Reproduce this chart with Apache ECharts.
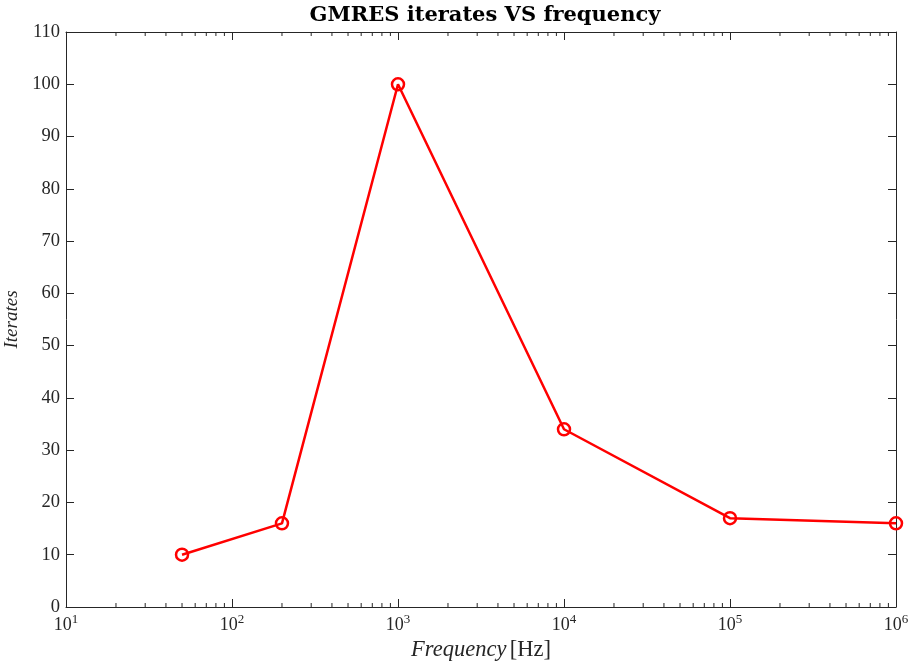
<!DOCTYPE html>
<html>
<head>
<meta charset="utf-8">
<script src="https://cdn.jsdelivr.net/npm/echarts@6/dist/echarts.min.js"></script>
<style>html,body{margin:0;padding:0;background:#fff}#c{width:910px;height:665px}</style>
</head>
<body>
<div id="c"></div>
<script>
var frequencies = [50, 200, 1000, 10000, 100000, 1000000];
var iterates = [10, 16, 100, 34, 17, 16];
var yTicks = [0, 10, 20, 30, 40, 50, 60, 70, 80, 90, 100, 110];
var xDecades = [10, 100, 1000, 10000, 100000, 1000000];
var minorMultipliers = [2, 3, 4, 5, 6, 7, 8, 9];

var minorTicks = [];
for (var d = 0; d < xDecades.length - 1; d++) {
  for (var m = 0; m < minorMultipliers.length; m++) {
    minorTicks.push([xDecades[d] * minorMultipliers[m]]);
  }
}

var FONT = '"Liberation Serif", "DejaVu Serif", serif';
var AX = '#262626';

var chart = echarts.init(document.getElementById('c'), null, {renderer: 'canvas'});

function xLabel(v) {
  var e = Math.round(Math.log10(v));
  return '{b|10}{s|' + e + '}';
}
var xRich = {
  b: {fontSize: 18, fontFamily: FONT, color: AX, verticalAlign: 'bottom'},
  s: {fontSize: 13, fontFamily: FONT, color: AX, verticalAlign: 'bottom', padding: [0, 0, 8, 0]}
};

var option = {
  animation: false,
  backgroundColor: '#ffffff',
  title: {
    text: 'GMRES iterates VS frequency',
    left: 480, top: 0, textAlign: 'center',
    textStyle: {fontFamily: '"DejaVu Serif", serif', fontWeight: 'bold', fontSize: 21, color: '#000'}
  },
  grid: {left: 66, right: 14, top: 32, bottom: 58, containLabel: false, outerBoundsMode: 'none'},
  xAxis: [{
    type: 'log', logBase: 10, min: xDecades[0], max: xDecades[xDecades.length - 1],
    position: 'bottom',
    name: '{i|Frequency} {n|[Hz]}', nameLocation: 'middle', nameGap: 32,
    nameTextStyle: {rich: {
      i: {fontFamily: FONT, fontStyle: 'italic', fontSize: 22.5, color: AX},
      n: {fontFamily: FONT, fontSize: 22.5, color: AX}
    }},
    axisLine: {show: true, onZero: false, lineStyle: {color: AX, width: 1}},
    axisTick: {show: true, inside: true, length: 8, lineStyle: {color: AX}},
    axisLabel: {formatter: xLabel, rich: xRich, margin: 6},
    splitLine: {show: false}
  }, {
    type: 'value',
    min: Math.log10(xDecades[0]), max: Math.log10(xDecades[xDecades.length - 1]), interval: 1,
    position: 'top',
    axisLine: {show: true, onZero: false, lineStyle: {color: AX, width: 1}},
    axisTick: {show: true, inside: true, length: 8, lineStyle: {color: AX}},
    axisLabel: {show: false},
    splitLine: {show: false}
  }],
  yAxis: [{
    type: 'value', min: yTicks[0], max: yTicks[yTicks.length - 1], interval: 10,
    position: 'left',
    name: 'Iterates', nameLocation: 'middle', nameGap: 42,
    nameTextStyle: {fontFamily: FONT, fontStyle: 'italic', fontSize: 19, color: AX},
    axisLine: {show: true, onZero: false, lineStyle: {color: AX, width: 1}},
    axisTick: {show: true, inside: true, length: 8, lineStyle: {color: AX}},
    axisLabel: {fontFamily: FONT, fontSize: 18.5, color: AX, margin: 6},
    splitLine: {show: false}
  }, {
    type: 'value', min: yTicks[0], max: yTicks[yTicks.length - 1], interval: 10,
    position: 'right',
    axisLine: {show: true, onZero: false, lineStyle: {color: AX, width: 1}},
    axisTick: {show: true, inside: true, length: 8, lineStyle: {color: AX}},
    axisLabel: {show: false},
    splitLine: {show: false}
  }],
  series: [{
    type: 'custom',
    xAxisIndex: 0, yAxisIndex: 0,
    clip: false,
    silent: true,
    data: minorTicks,
    renderItem: function (params, api) {
      var v = api.value(0);
      var b = api.coord([v, yTicks[0]]);
      var t = api.coord([v, yTicks[yTicks.length - 1]]);
      var len = 4;
      return {
        type: 'group',
        children: [
          {type: 'line', shape: {x1: b[0], y1: b[1], x2: b[0], y2: b[1] - len}, style: {stroke: AX, lineWidth: 1}},
          {type: 'line', shape: {x1: t[0], y1: t[1], x2: t[0], y2: t[1] + len}, style: {stroke: AX, lineWidth: 1}}
        ]
      };
    }
  }, {
    type: 'line',
    xAxisIndex: 0, yAxisIndex: 0,
    data: frequencies.map(function (f, i) { return [f, iterates[i]]; }),
    lineStyle: {color: '#ff0000', width: 2.5},
    itemStyle: {color: 'rgba(255,0,0,0)', borderColor: '#ff0000', borderWidth: 2.5},
    symbol: 'circle', symbolSize: 12, showAllSymbol: true,
    clip: false
  }]
};
chart.setOption(option);
</script>
</body>
</html>
